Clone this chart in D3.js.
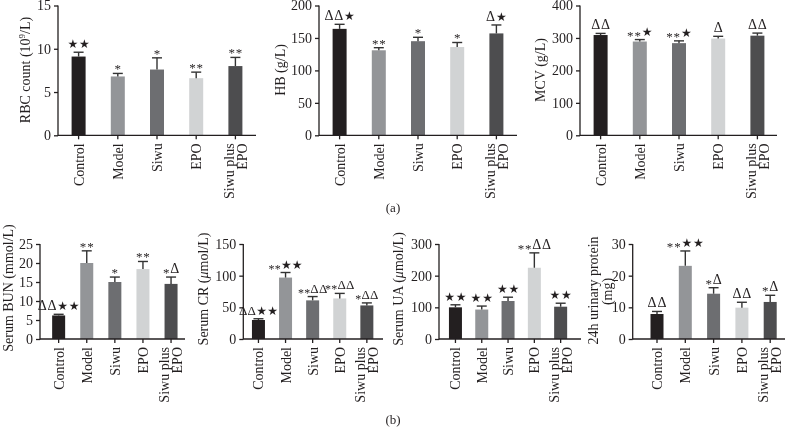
<!DOCTYPE html>
<html><head><meta charset="utf-8">
<script src="https://cdn.jsdelivr.net/npm/d3@7"></script>
<style>body{margin:0;background:#fff} svg{display:block;will-change:transform}</style>
</head><body><svg id="c" width="786" height="436"></svg>
<script>
const categories = ["Control","Model","Siwu","EPO","Siwu plus EPO"];
const barColors = ["#231f20","#939598","#6d6e71","#d1d3d4","#4d4d4f"];

const rbcMean = [9.1, 6.8, 7.6, 6.6, 8.0];
const rbcErr  = [0.5, 0.35, 1.35, 0.7, 1.0];
const rbcSig  = ["★★","*","*","**","**"];
const rbcTicks = [0,5,10,15];

const hbMean = [164, 131, 145, 136, 157];
const hbErr  = [7, 4, 6, 7, 13];
const hbSig  = ["ΔΔ★","**","*","*","Δ★"];
const hbTicks = [0,50,100,150,200];

const mcvMean = [309, 289, 284, 298, 307];
const mcvErr  = [5, 6, 7, 7, 8];
const mcvSig  = ["ΔΔ","**★","**★","Δ","ΔΔ"];
const mcvTicks = [0,100,200,300,400];

const bunMean = [6.2, 20.0, 15.0, 18.4, 14.5];
const bunErr  = [0.3, 3.2, 1.3, 2.0, 1.8];
const bunSig  = ["ΔΔ★★","**","*","**","*Δ"];
const bunTicks = [0,5,10,15,20,25];

const crMean = [30, 97, 61, 64, 53];
const crErr  = [2, 8, 6, 8, 4];
const crSig  = ["ΔΔ★★","**★★","**ΔΔ","**ΔΔ","*ΔΔ"];
const crTicks = [0,50,100,150];

const uaMean = [100, 93, 120, 225, 102];
const uaErr  = [8, 11, 12, 47, 11];
const uaSig  = ["★★","★★","★★","**ΔΔ","★★"];
const uaTicks = [0,100,200,300];

const upMean = [7.9, 23.1, 14.3, 9.9, 11.7];
const upErr  = [0.8, 4.7, 1.9, 1.7, 2.1];
const upSig  = ["ΔΔ","**★★","*Δ","ΔΔ","*Δ"];
const upTicks = [0,10,20,30];

const panels = [
  {mean:rbcMean, err:rbcErr, sig:rbcSig, ticks:rbcTicks, label:["RBC count (10","9","/L)"], sup:true,
   ax:58, bx:[59,255], end:256, y:[135.3,5.5], bw:14, lx:30, ly:70},
  {mean:hbMean, err:hbErr, sig:hbSig, ticks:hbTicks, label:["HB (g/L)"],
   ax:319, bx:[320,516], end:517, y:[135.3,5.5], bw:14, lx:285, ly:70},
  {mean:mcvMean, err:mcvErr, sig:mcvSig, ticks:mcvTicks, label:["MCV (g/L)"],
   ax:580, bx:[581,777], end:777, y:[135.3,5.5], bw:14, lx:545, ly:70},
  {mean:bunMean, err:bunErr, sig:bunSig, ticks:bunTicks, label:["Serum BUN (mmol/L)"],
   ax:40, bx:[44.6,185.1], end:185, y:[339,244], bw:13, lx:12.5, ly:288},
  {mean:crMean, err:crErr, sig:crSig, ticks:crTicks, label:["Serum CR (", "μ", "mol/L)"], mu:true,
   ax:243.3, bx:[244.9,380.4], end:383, y:[339,244], bw:13, lx:207.5, ly:289, tight:true},
  {mean:uaMean, err:uaErr, sig:uaSig, ticks:uaTicks, label:["Serum UA (", "μ", "mol/L)"], mu:true,
   ax:439, bx:[442.3,573.8], end:581, y:[339,244], bw:13, lx:402.5, ly:289},
  {mean:upMean, err:upErr, sig:upSig, ticks:upTicks, label:["24h urinary protein"], label2:"(mg)",
   ax:632.7, bx:[642.85,784.35], end:785, y:[339,244], bw:13, lx:597.5, ly:290.5}
];

const svg = d3.select("#c");
const ink = "#231f20";
const serif = "'Liberation Serif','Times New Roman',serif";

function addSig(t, str, tight){
  let prev = 0;
  [...str].forEach((c,i)=>{
    let fam = serif, fs = tight ? 13 : 14, off = 0;
    if(c==="*"){ fs = tight ? 12 : 13; off = 4; }
    else if(c==="★"){ fam = "'DejaVu Sans',sans-serif"; fs = 12; off = 0; }
    t.append("tspan").attr("font-family",fam).attr("font-size",fs)
      .attr("dy", off-prev).attr("dx", i>0 ? (tight ? 0.2 : 0.8) : 0).text(c);
    prev = off;
  });
}

panels.forEach(p=>{
  const g = svg.append("g");
  const x = d3.scaleBand().domain(categories).range(p.bx);
  const y = d3.scaleLinear().domain([0, d3.max(p.ticks)]).range(p.y);
  const bw = p.bw;
  g.selectAll("rect.bar").data(categories).join("rect")
    .attr("x", d=>x(d)+x.bandwidth()/2-bw/2)
    .attr("y", (d,i)=>y(p.mean[i]))
    .attr("width", bw)
    .attr("height", (d,i)=>y(0)-y(p.mean[i]))
    .attr("fill", (d,i)=>barColors[i]);
  categories.forEach((d,i)=>{
    const cx = x(d)+x.bandwidth()/2;
    const top = y(p.mean[i]+p.err[i]);
    g.append("line").attr("x1",cx).attr("x2",cx).attr("y1",y(p.mean[i])).attr("y2",top)
      .attr("stroke","#333").attr("stroke-width",1.4);
    g.append("line").attr("x1",cx-5).attr("x2",cx+5).attr("y1",top).attr("y2",top)
      .attr("stroke","#333").attr("stroke-width",1.4);
    const t = g.append("text").attr("x",cx).attr("y",top-4).attr("text-anchor","middle").attr("fill",ink);
    addSig(t, p.sig[i], p.tight);
  });
  const ya = g.append("g").attr("transform",`translate(${p.ax},0)`)
    .call(d3.axisLeft(y).tickValues(p.ticks).tickSize(4).tickSizeOuter(0).tickPadding(3));
  ya.select(".domain").remove();
  ya.selectAll(".tick line").attr("stroke",ink).attr("stroke-width",1.3);
  ya.selectAll(".tick text").attr("font-family",serif).attr("font-size",14).attr("fill",ink);
  g.append("line").attr("x1",p.ax).attr("x2",p.ax).attr("y1",p.y[0]+0.6).attr("y2",p.y[1])
    .attr("stroke",ink).attr("stroke-width",1.3);
  const xa = g.append("g").attr("transform",`translate(0,${p.y[0]})`)
    .call(d3.axisBottom(x).tickSize(4).tickSizeOuter(0).tickFormat(""));
  xa.select(".domain").remove();
  xa.selectAll(".tick line").attr("stroke",ink).attr("stroke-width",1.3);
  g.append("line").attr("x1",p.ax).attr("x2",p.end).attr("y1",p.y[0]).attr("y2",p.y[0])
    .attr("stroke",ink).attr("stroke-width",1.3);
  categories.forEach(d=>{
    const cx = x(d)+x.bandwidth()/2;
    const lines = d==="Siwu plus EPO" ? ["Siwu plus","EPO"] : [d];
    const offs = lines.length===2 ? [-6.8, 6.2] : [0];
    lines.forEach((ln,k)=>{
      const bx = cx + offs[k] + 5;
      g.append("text").attr("transform",`translate(${bx},${p.y[0]+8}) rotate(-90)`)
        .attr("text-anchor","end").attr("font-family",serif).attr("font-size",14)
        .attr("fill",ink).text(ln);
    });
  });
  const yl = g.append("text").attr("transform",`translate(${p.lx},${p.ly}) rotate(-90)`)
    .attr("text-anchor","middle").attr("font-family",serif).attr("font-size",14).attr("fill",ink);
  if(p.sup){
    yl.append("tspan").text(p.label[0]);
    yl.append("tspan").attr("font-size",9).attr("dy",-5).text(p.label[1]);
    yl.append("tspan").attr("dy",5).text(p.label[2]);
  } else if(p.mu){
    yl.append("tspan").text(p.label[0]);
    yl.append("tspan").attr("font-style","italic").text(p.label[1]);
    yl.append("tspan").text(p.label[2]);
  } else {
    yl.text(p.label[0]);
  }
  if(p.label2){
    g.append("text").attr("transform",`translate(${p.lx+14.2},${p.ly+1}) rotate(-90)`)
      .attr("text-anchor","middle").attr("font-family",serif).attr("font-size",14)
      .attr("fill",ink).text(p.label2);
  }
});

svg.append("text").attr("x",393).attr("y",212).attr("text-anchor","middle")
  .attr("font-family",serif).attr("font-size",13).attr("fill",ink).text("(a)");
svg.append("text").attr("x",393).attr("y",424).attr("text-anchor","middle")
  .attr("font-family",serif).attr("font-size",13).attr("fill",ink).text("(b)");
</script></body></html>
